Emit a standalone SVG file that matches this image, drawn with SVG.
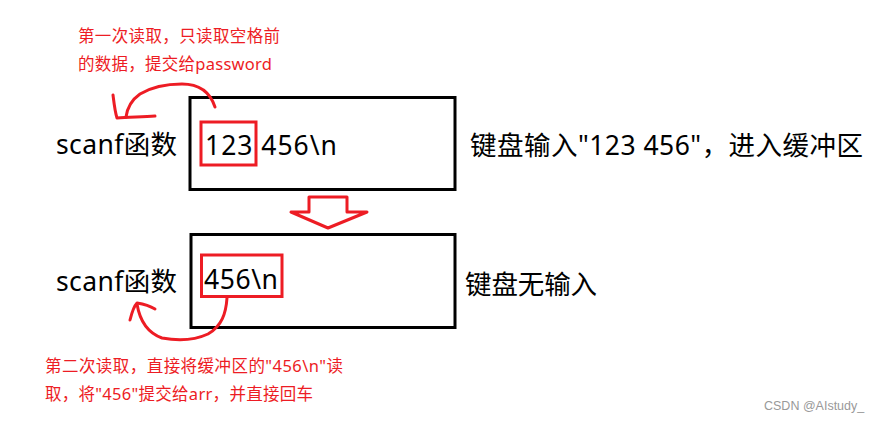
<svg xmlns="http://www.w3.org/2000/svg" width="884" height="421" viewBox="0 0 884 421">
<style>
.t{font-family:"Noto Sans","Noto Sans CJK SC",sans-serif;fill:#000}
.big{font-size:26.5px}
.note{font-family:"Noto Sans","Noto Sans CJK SC",sans-serif;font-size:16.5px;fill:#ED1C24}
.box{fill:none;stroke:#000;stroke-width:3}
.rbox{fill:none;stroke:#ED1C24;stroke-width:3}
.pen{fill:none;stroke:#ED1C24;stroke-width:3;stroke-linecap:round;stroke-linejoin:round}
.wm{font-family:"Liberation Sans",Arial,sans-serif;font-size:12.5px;fill:#999}
</style>
<rect width="884" height="421" fill="#fff"/>

<g id="note1">
<text class="note" x="78" y="42" textLength="202" lengthAdjust="spacing">第一次读取，只读取空格前</text>
<text class="note" x="78" y="70" textLength="194" lengthAdjust="spacing">的数据，提交给password</text>
</g>

<g id="scanf1">
<text class="t big" x="56" y="154" textLength="121" lengthAdjust="spacing">scanf函数</text>
</g>

<g id="buffer1">
<rect class="box" x="190" y="97.5" width="265" height="92"/>
<rect class="rbox" x="201" y="122" width="55" height="43"/>
<text class="t big" x="205" y="155" textLength="132" lengthAdjust="spacing">123 456\n</text>
</g>

<g id="label1">
<text class="t big" x="470" y="155" textLength="393" lengthAdjust="spacing">键盘输入"123 456"，进入缓冲区</text>
</g>

<g id="scanf2">
<text class="t big" x="56" y="291" textLength="121" lengthAdjust="spacing">scanf函数</text>
</g>

<g id="buffer2">
<rect class="box" x="191" y="234.5" width="264" height="93"/>
<rect class="rbox" x="201.5" y="255" width="80.5" height="41.5"/>
<text class="t big" x="204" y="289" textLength="74" lengthAdjust="spacing">456\n</text>
</g>

<g id="label2">
<text class="t big" x="465" y="294" textLength="132" lengthAdjust="spacing">键盘无输入</text>
</g>

<g id="note2">
<text class="note" x="45" y="372" textLength="298" lengthAdjust="spacing">第二次读取，直接将缓冲区的"456\n"读</text>
<text class="note" x="45" y="400" textLength="268" lengthAdjust="spacing">取，将"456"提交给arr，并直接回车</text>
</g>

<g id="connectors">
<polygon class="pen" points="309,197 347,197 347,212 367,212 328,228 291,212 309,212"/>
<path class="pen" d="M215,107 C210,92 200,84 182,84 C165,84 150,88 140,94 C130,101 127,110 126,117"/>
<path class="pen" d="M113,95 C114,103 115,112 117,118 C128,117 142,117 155,116"/>
<path class="pen" d="M227,298 C226,313 222,326 208,334 C195,340 178,341 162,338 C148,333 140,322 137,304"/>
<path class="pen" d="M130,320 C132,312 134,306 137,303 C143,304 150,306 155,309"/>
</g>

<text class="wm" x="764" y="410">CSDN @AIstudy_</text>
</svg>
